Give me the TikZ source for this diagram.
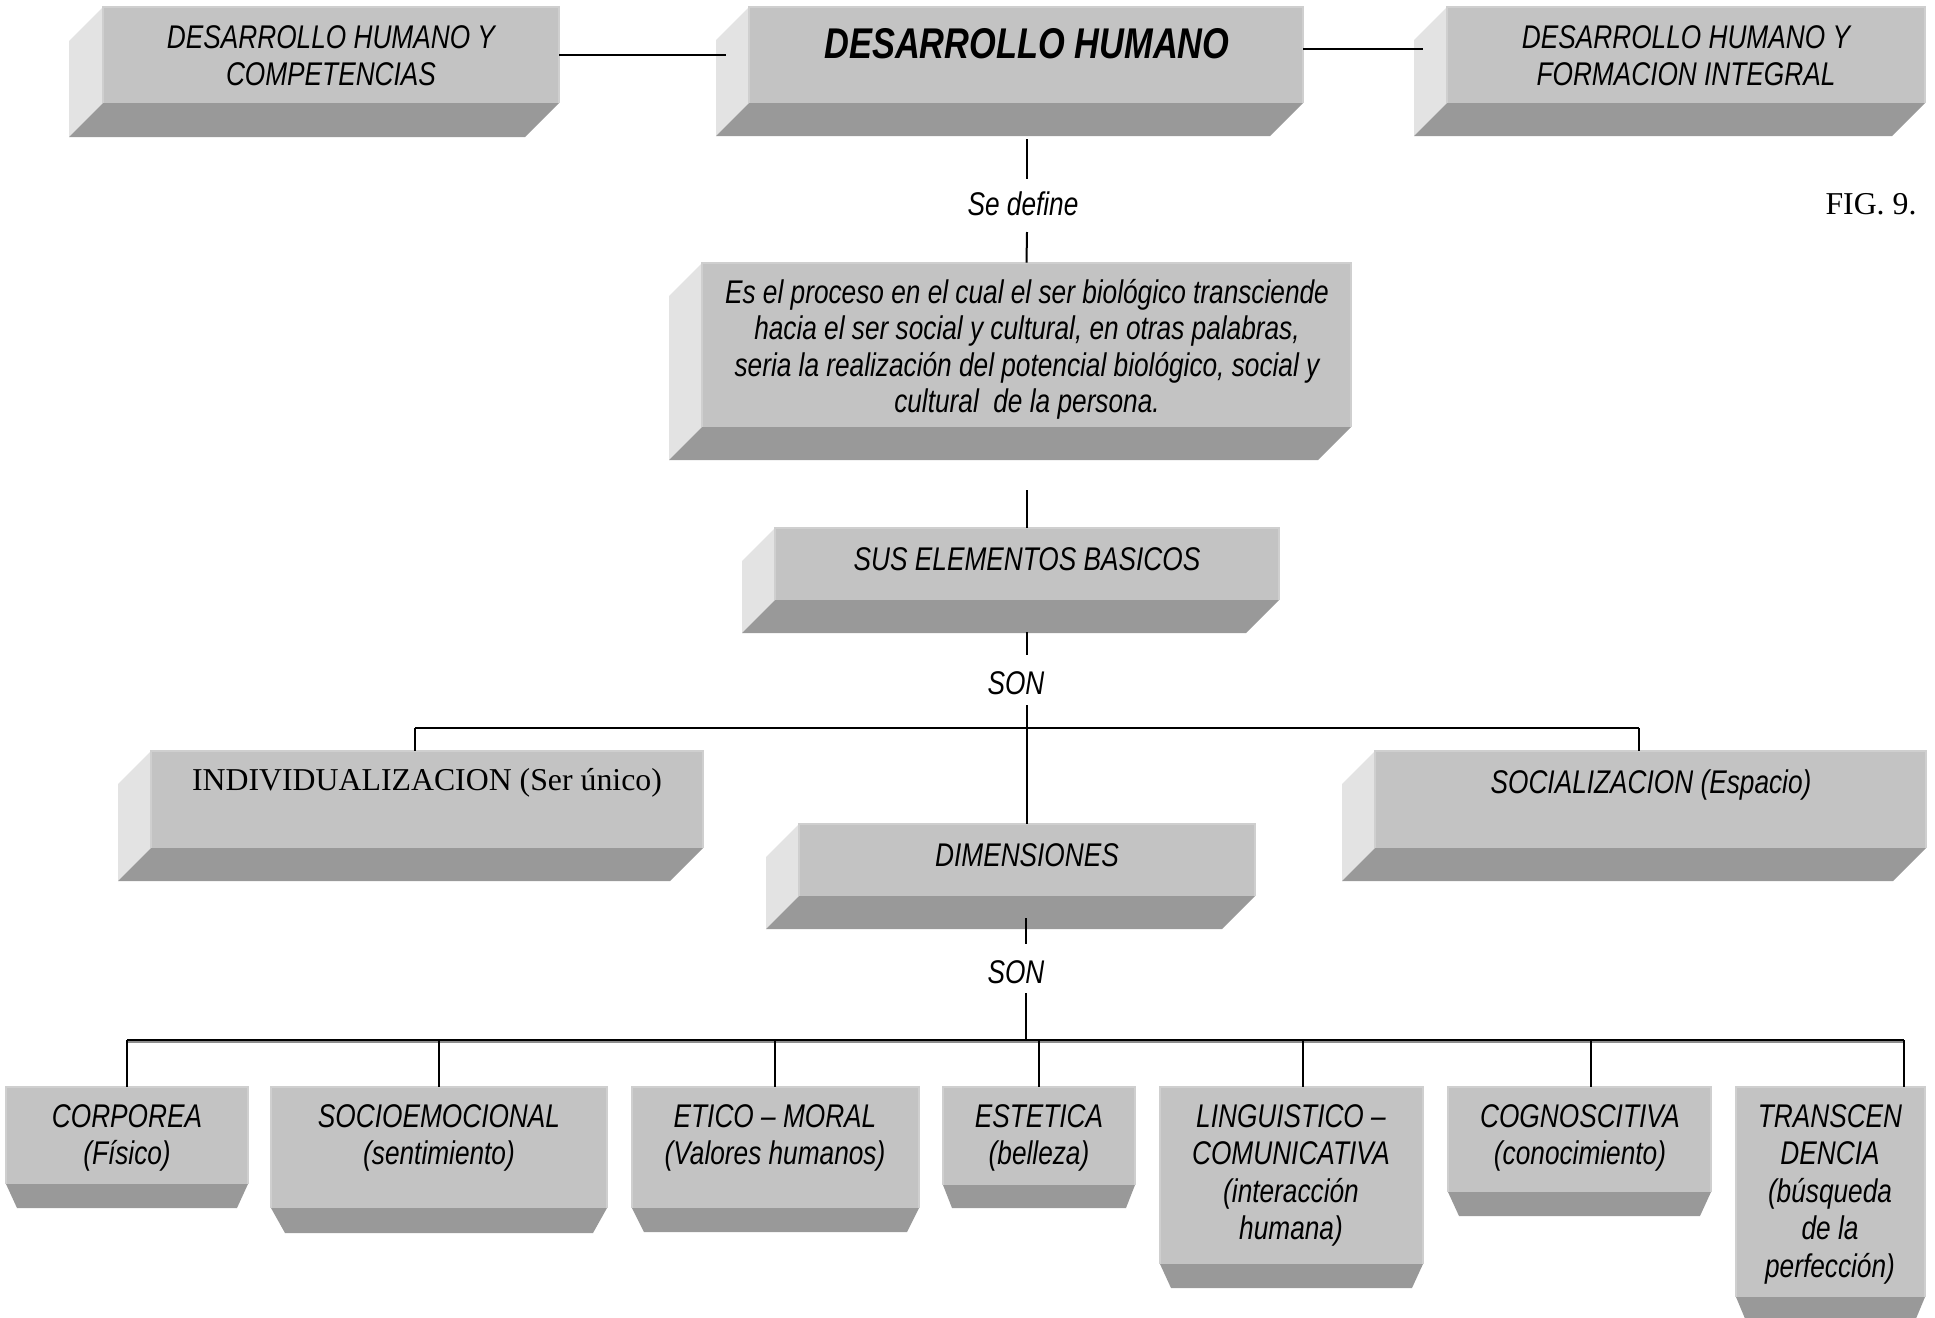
\documentclass[tikz,border=0pt]{standalone}
\usepackage{fontspec}
\setmainfont{Liberation Serif}
\newfontfamily\narrowsans[FakeStretch=0.8]{Liberation Sans}
\usetikzlibrary{fit}
\definecolor{facec}{HTML}{C3C3C3}
\definecolor{sidec}{HTML}{E3E3E3}
\definecolor{botc}{HTML}{999999}
\definecolor{edgec}{HTML}{CFCFCF}
\newcommand\ft{\rule{0pt}{15pt}}
% name, x1, y1, x2, y2, depth
\newcommand\bevelA[6]{%
  \fill[sidec] (#2,#3) -- (#2-#6,#3+#6) -- (#2-#6,#5+#6) -- (#2,#5) -- cycle;
  \fill[botc] (#2,#5) -- (#4,#5) -- (#4-#6,#5+#6) -- (#2-#6,#5+#6) -- cycle;
  \fill[facec] (#2,#3) rectangle (#4,#5);
  \draw[edgec,line width=0.8pt] (#2,#5) -- (#2,#3) -- (#4,#3) -- (#4,#5);
  \coordinate (#1-a) at (#2,#3); \coordinate (#1-b) at (#4,#5);
  \node[fit=(#1-a)(#1-b), inner sep=0pt] (#1) {};
}
% name, x1, y1, x2, y2, height, inset
\newcommand\bevelB[7]{%
  \fill[botc] (#2,#5) -- (#4,#5) -- (#4-#7,#5+#6) -- (#2+#7,#5+#6) -- cycle;
  \fill[facec] (#2,#3) rectangle (#4,#5);
  \draw[edgec,line width=0.8pt] (#2,#5) -- (#2,#3) -- (#4,#3) -- (#4,#5);
  \coordinate (#1-a) at (#2,#3); \coordinate (#1-b) at (#4,#5);
  \node[fit=(#1-a)(#1-b), inner sep=0pt] (#1) {};
}
\tikzset{
  sans/.style={font=\narrowsans\itshape\fontsize{16.4}{18.7}\selectfont, align=center, inner sep=0pt},
  sansdef/.style={font=\narrowsans\itshape\fontsize{16.4}{18.15}\selectfont, align=center, inner sep=0pt},
  titletext/.style={font=\narrowsans\bfseries\itshape\fontsize{21.5}{24}\selectfont, inner sep=0pt},
  serif/.style={font=\fontsize{15.9}{18}\selectfont, inner sep=0pt},
  conn/.style={line width=1pt, black},
}
\begin{document}
\begin{tikzpicture}[x=0.5pt, y=-0.5pt]
\useasboundingbox (0,0) rectangle (1935,1318);
\fill[white] (0,0) rectangle (1935,1318);
\clip (0,0) rectangle (1935,1318);

% ---- top row
\bevelA{b1}{103}{7}{559}{103}{34}
\bevelA{b2}{749}{7}{1303}{103}{33}
\bevelA{b3}{1447}{7}{1925}{103}{33}
\node[sans, anchor=north] (t1) at (331,18) {\ft DESARROLLO HUMANO Y\\COMPETENCIAS};
\node[titletext, anchor=base] (t2) at (1027,58) {DESARROLLO HUMANO};
\node[sans, anchor=north] (t3) at (1686,18) {\ft DESARROLLO HUMANO Y\\FORMACION INTEGRAL};

\coordinate (c12) at (726,55);
\draw[conn] (b1.east) -- (c12);
\coordinate (c23a) at (1303,49);
\coordinate (c23b) at (1423,49);
\draw[conn] (c23a) -- (c23b);

% ---- Se define
\node[sans, anchor=base] (sd) at (1023,215) {Se define};
\node[serif, anchor=base] (fig) at (1871,214) {FIG. 9.};
\coordinate (v1a) at (1027,139);
\coordinate (v1b) at (1027,179);
\draw[conn] (v1a) -- (v1b);
\coordinate (v2a) at (1027,232);

% ---- definition box
\bevelA{b4}{702}{263}{1351}{427}{33}
\node[sansdef, anchor=north] (t4) at (1027,273) {\ft Es el proceso en el cual el ser biológico transciende\\hacia el ser social y cultural, en otras palabras,\\seria la realización del potencial biológico, social y\\cultural\ \ de la persona.};
\draw[conn] (v2a) -- (b4.north);

% ---- elementos basicos
\bevelA{b5}{775}{528}{1279}{600}{33}
\node[sans, anchor=base] (t5) at (1027,570) {SUS ELEMENTOS BASICOS};
\coordinate (v3a) at (1027,490);
\draw[conn] (v3a) -- (b5.north);
\coordinate (v4a) at (1027,632);
\coordinate (v4b) at (1027,655);
\draw[conn] (v4a) -- (v4b);
\node[sans, anchor=base] (son1) at (1016,694) {SON};
\coordinate (v5a) at (1027,705);
\coordinate (bus1m) at (1027,728);
\coordinate (bus1l) at (415,728);
\coordinate (bus1r) at (1639,728);
\draw[conn] (v5a) -- (bus1m);
\draw[conn] (bus1l) -- (bus1r);

% ---- second level
\bevelA{b6}{151}{751}{703}{848}{33}
\bevelA{b8}{1375}{751}{1926}{848}{33}
\bevelA{b7}{799}{824}{1255}{896}{33}
\node[serif, anchor=base] (t6) at (427,790) {INDIVIDUALIZACION (Ser único)};
\node[sans, anchor=base] (t8) at (1651,793) {SOCIALIZACION (Espacio)};
\node[sans, anchor=base] (t7) at (1027,866) {DIMENSIONES};
\draw[conn] (bus1l) -- (bus1l |- b6.north);
\draw[conn] (bus1r) -- (bus1r |- b8.north);
\draw[conn] (bus1m) -- (bus1m |- b7.north);

\coordinate (v6a) at (1026,918);
\coordinate (v6b) at (1026,944);
\draw[conn] (v6a) -- (v6b);
\node[sans, anchor=base] (son2) at (1016,983) {SON};
\coordinate (v7a) at (1026,993);
\coordinate (bus2m) at (1026,1040);
\draw[conn] (v7a) -- (bus2m);
\coordinate (bus2l) at (127,1040);
\coordinate (bus2r) at (1904,1040);
\draw[line width=1.2pt, black!45] (127,1042) -- (1904,1042);
\draw[conn] (bus2l) -- (bus2r);

% ---- bottom row
\bevelB{d1}{6}{1087}{248}{1184}{24}{11}
\bevelB{d2}{271}{1087}{607}{1208}{25}{14}
\bevelB{d3}{632}{1087}{919}{1208}{24}{12}
\bevelB{d4}{943}{1087}{1135}{1185}{23}{9}
\bevelB{d5}{1160}{1087}{1423}{1264}{24}{11}
\bevelB{d6}{1448}{1087}{1711}{1192}{24}{11}
\bevelB{d7}{1736}{1087}{1925}{1297}{24}{10}

\tikzset{bsans/.style={font=\narrowsans\itshape\fontsize{16.4}{18.75}\selectfont, align=center, inner sep=0pt, anchor=north}}
\node[bsans] (e1) at (127,1097) {\ft CORPOREA\\(Físico)};
\node[bsans] (e2) at (439,1097) {\ft SOCIOEMOCIONAL\\(sentimiento)};
\node[bsans] (e3) at (775,1097) {\ft ETICO – MORAL\\(Valores humanos)};
\node[bsans] (e4) at (1039,1097) {\ft ESTETICA\\(belleza)};
\node[bsans] (e5) at (1291,1097) {\ft LINGUISTICO –\\COMUNICATIVA\\(interacción\\humana)};
\node[bsans] (e6) at (1580,1097) {\ft COGNOSCITIVA\\(conocimiento)};
\node[bsans] (e7) at (1830,1097) {\ft TRANSCEN\\DENCIA\\(búsqueda\\de la\\perfección)};

\foreach \n/\x in {d1/127,d2/439,d3/775,d4/1039,d5/1303,d6/1591,d7/1904}{
  \coordinate (drop-\n) at (\x,1040);
  \draw[conn] (drop-\n) -- (drop-\n |- \n.north);
}
\end{tikzpicture}
\end{document}
